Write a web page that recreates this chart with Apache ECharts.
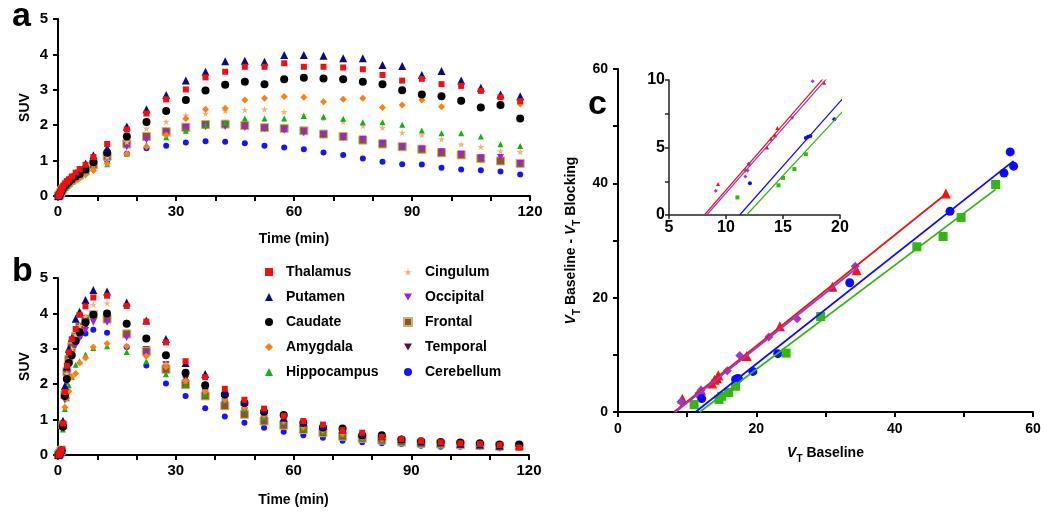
<!DOCTYPE html>
<html lang="en">
<head>
<meta charset="UTF-8">
<title>SUV curves and occupancy plot</title>
<style>
  html, body { margin: 0; padding: 0; background: #fff; }
</style>
</head>
<body>
<div id="fig" style="width:1050px;height:515px;"></div>
<script src="https://cdn.jsdelivr.net/npm/echarts/dist/echarts.min.js"></script>
<script>
// frame mid times (min)
var times = [0.08, 0.25, 0.42, 0.58, 0.75, 0.92, 1.25, 1.75, 2.25, 2.75, 3.5, 4.5, 5.5, 7, 9,
  12.5, 17.5, 22.5, 27.5, 32.5, 37.5, 42.5, 47.5, 52.5, 57.5, 62.5, 67.5, 72.5, 77.5, 82.5,
  87.5, 92.5, 97.5, 102.5, 107.5, 112.5, 117.5];

var regions = ['Thalamus', 'Putamen', 'Caudate', 'Amygdala', 'Hippocampus',
  'Cingulum', 'Occipital', 'Frontal', 'Temporal', 'Cerebellum'];

// panel a
var thalamusA = [0, 0.02, 0.06, 0.1, 0.15, 0.2, 0.27, 0.35, 0.42, 0.47, 0.55, 0.66, 0.76, 0.88, 1.1,
  1.47, 1.88, 2.33, 2.73, 3.01, 3.35, 3.51, 3.65, 3.65, 3.75, 3.65, 3.65, 3.63, 3.58, 3.42, 3.26, 3.31, 3.16, 3.11, 2.97, 2.79, 2.68];
var putamenA = [0, 0.02, 0.05, 0.09, 0.14, 0.19, 0.26, 0.34, 0.41, 0.46, 0.54, 0.65, 0.74, 0.92, 1.15,
  1.35, 1.96, 2.45, 2.85, 3.26, 3.51, 3.81, 3.82, 3.79, 3.98, 3.98, 3.96, 3.89, 3.89, 3.70, 3.67, 3.42, 3.53, 3.26, 3.06, 2.87, 2.82];
var caudateA = [0, 0.02, 0.04, 0.08, 0.12, 0.16, 0.22, 0.29, 0.35, 0.4, 0.47, 0.55, 0.62, 0.75, 0.95,
  1.22, 1.68, 2.09, 2.40, 2.71, 2.98, 3.14, 3.23, 3.16, 3.30, 3.34, 3.32, 3.30, 3.23, 3.16, 2.99, 2.87, 2.82, 2.69, 2.50, 2.57, 2.19];
var amygdalaA = [0, 0.01, 0.03, 0.06, 0.09, 0.12, 0.17, 0.23, 0.28, 0.32, 0.38, 0.43, 0.5, 0.6, 0.72,
  0.92, 1.19, 1.39, 1.72, 2.18, 2.45, 2.48, 2.71, 2.76, 2.81, 2.79, 2.66, 2.73, 2.76, 2.50, 2.57, 2.71, 2.52, 2.66, 2.52, 2.56, 2.6];
var hippocampusA = [0, 0.01, 0.03, 0.06, 0.09, 0.12, 0.17, 0.23, 0.28, 0.33, 0.4, 0.47, 0.55, 0.65, 0.78,
  0.9, 1.2, 1.44, 1.66, 1.84, 2.0, 2.07, 2.19, 2.19, 2.19, 2.26, 2.24, 2.18, 2.08, 2.08, 2.01, 1.85, 1.77, 1.77, 1.68, 1.46, 1.41];
var cingulumA = [0, 0.01, 0.03, 0.07, 0.1, 0.14, 0.19, 0.25, 0.31, 0.36, 0.42, 0.5, 0.57, 0.68, 0.85,
  1.1, 1.53, 1.91, 2.1, 2.29, 2.33, 2.41, 2.43, 2.45, 2.38, 2.29, 2.19, 2.10, 1.98, 1.93, 1.79, 1.72, 1.61, 1.46, 1.39, 1.27, 1.25];
var occipitalA = [0, 0.01, 0.04, 0.07, 0.1, 0.14, 0.19, 0.26, 0.32, 0.37, 0.44, 0.52, 0.6, 0.7, 0.85,
  1.05, 1.39, 1.58, 1.77, 1.94, 1.96, 1.96, 1.94, 1.91, 1.86, 1.79, 1.74, 1.66, 1.60, 1.49, 1.39, 1.33, 1.25, 1.18, 1.08, 1.09, 0.92];
var frontalA = [0, 0.01, 0.04, 0.07, 0.11, 0.15, 0.2, 0.27, 0.33, 0.38, 0.45, 0.53, 0.6, 0.72, 0.88,
  1.12, 1.47, 1.68, 1.82, 1.94, 2.02, 2.03, 1.99, 1.93, 1.91, 1.84, 1.75, 1.68, 1.58, 1.47, 1.39, 1.32, 1.22, 1.16, 1.06, 0.99, 0.92];
var temporalA = [0, 0.01, 0.04, 0.07, 0.1, 0.14, 0.19, 0.26, 0.32, 0.37, 0.44, 0.51, 0.58, 0.7, 0.85,
  1.08, 1.42, 1.63, 1.78, 1.9, 1.97, 1.98, 1.95, 1.9, 1.87, 1.8, 1.72, 1.65, 1.56, 1.45, 1.37, 1.3, 1.2, 1.14, 1.05, 0.98, 0.9];
var cerebellumA = [0, 0.02, 0.04, 0.07, 0.1, 0.14, 0.19, 0.25, 0.3, 0.35, 0.41, 0.48, 0.55, 0.65, 0.8,
  1.0, 1.19, 1.35, 1.42, 1.51, 1.55, 1.53, 1.49, 1.42, 1.37, 1.32, 1.23, 1.16, 1.06, 0.97, 0.90, 0.89, 0.80, 0.75, 0.73, 0.69, 0.61];

// panel b
var thalamusB = [0, 0.02, 0.05, 0.08, 0.1, 0.15, 0.89, 1.78, 2.52, 2.9, 3.27, 3.56, 3.96, 4.2, 4.45,
  4.5, 4.21, 3.77, 3.18, 2.65, 2.2, 1.87, 1.56, 1.31, 1.1, 0.96, 0.86, 0.70, 0.63, 0.51, 0.45, 0.40, 0.36, 0.33, 0.31, 0.28, 0.21];
var putamenB = [0, 0.02, 0.05, 0.08, 0.1, 0.15, 0.97, 1.95, 2.5, 3.0, 3.3, 3.85, 4.05, 4.38, 4.66,
  4.62, 4.31, 3.8, 3.28, 2.6, 2.29, 1.76, 1.5, 1.28, 1.05, 0.92, 0.82, 0.72, 0.6, 0.53, 0.45, 0.38, 0.36, 0.32, 0.3, 0.27, 0.27];
var caudateB = [0, 0.02, 0.04, 0.07, 0.1, 0.13, 0.8, 1.67, 2.15, 2.6, 2.82, 3.22, 3.47, 3.75, 3.96,
  4.0, 3.71, 3.29, 2.82, 2.32, 1.97, 1.71, 1.47, 1.22, 1.13, 0.91, 0.78, 0.75, 0.56, 0.56, 0.44, 0.39, 0.37, 0.35, 0.33, 0.3, 0.3];
var amygdalaB = [0, 0.01, 0.03, 0.06, 0.09, 0.12, 0.8, 1.35, 1.6, 1.8, 2.2, 2.3, 2.6, 2.74, 3.05,
  3.15, 3.07, 2.79, 2.49, 2.09, 1.81, 1.57, 1.34, 1.12, 0.95, 0.8, 0.7, 0.6, 0.5, 0.45, 0.4, 0.35, 0.33, 0.3, 0.28, 0.26, 0.25];
var hippocampusB = [0, 0.01, 0.03, 0.05, 0.08, 0.11, 0.72, 1.3, 1.6, 1.97, 2.2, 2.55, 2.65, 2.84, 3.02,
  3.07, 2.91, 2.65, 2.28, 1.97, 1.71, 1.53, 1.29, 1.06, 0.94, 0.75, 0.66, 0.57, 0.48, 0.43, 0.38, 0.34, 0.31, 0.28, 0.26, 0.24, 0.23];
var cingulumB = [0, 0.02, 0.04, 0.07, 0.1, 0.13, 0.85, 1.7, 2.3, 2.7, 3.0, 3.4, 3.65, 3.9, 4.25,
  4.29, 3.78, 3.3, 2.58, 2.1, 1.78, 1.55, 1.3, 1.1, 0.95, 0.8, 0.7, 0.6, 0.5, 0.45, 0.4, 0.36, 0.33, 0.3, 0.28, 0.26, 0.25];
var occipitalB = [0, 0.02, 0.04, 0.07, 0.1, 0.13, 0.82, 1.55, 2.05, 2.5, 2.75, 3.1, 3.3, 3.52, 3.75,
  3.75, 3.32, 2.88, 2.46, 2.05, 1.75, 1.45, 1.22, 1.0, 0.88, 0.74, 0.64, 0.55, 0.47, 0.42, 0.37, 0.33, 0.3, 0.28, 0.26, 0.24, 0.23];
var frontalB = [0, 0.02, 0.05, 0.08, 0.11, 0.14, 0.85, 1.7, 2.35, 2.7, 3.05, 3.35, 3.62, 3.84, 3.96,
  3.84, 3.42, 2.93, 2.42, 1.99, 1.67, 1.39, 1.15, 0.96, 0.84, 0.72, 0.63, 0.53, 0.47, 0.42, 0.37, 0.33, 0.31, 0.29, 0.27, 0.25, 0.24];
var temporalB = [0, 0.02, 0.04, 0.07, 0.1, 0.13, 0.83, 1.6, 2.1, 2.55, 2.85, 3.2, 3.45, 3.6, 3.8,
  3.8, 3.38, 2.98, 2.55, 2.15, 1.8, 1.5, 1.25, 1.03, 0.9, 0.76, 0.66, 0.56, 0.48, 0.43, 0.38, 0.34, 0.31, 0.29, 0.27, 0.25, 0.24];
var cerebellumB = [0, 0.02, 0.04, 0.07, 0.1, 0.13, 0.85, 1.75, 2.3, 2.65, 2.95, 3.2, 3.35, 3.43, 3.54,
  3.45, 3.05, 2.53, 2.02, 1.67, 1.32, 1.09, 0.91, 0.77, 0.66, 0.56, 0.49, 0.40, 0.36, 0.33, 0.31, 0.26, 0.23, 0.23, 0.22, 0.19, 0.22];

// panel c : [VT baseline, VT baseline - VT blocking]
var redPts = [[9.3, 2.3], [12.0, 3.8], [13.6, 5.0], [13.95, 5.65], [14.3, 5.9], [14.5, 6.45],
  [18.6, 9.8], [23.4, 15.0], [31.0, 21.9], [34.5, 24.8], [47.4, 38.2]];
var purplePts = [[9.1, 1.8], [11.7, 2.85], [11.7, 3.3], [11.9, 3.3], [12.0, 3.8], [15.8, 7.2],
  [17.6, 9.9], [21.8, 13.1], [25.9, 16.3], [34.3, 25.5]];
var bluePts = [[12.1, 2.35], [17.0, 5.7], [17.2, 5.8], [17.4, 5.85], [19.5, 7.1], [23.1, 10.2],
  [33.5, 22.6], [48.0, 35.1], [55.8, 41.8], [57.2, 43.0], [56.7, 45.5]];
var greenPts = [[11.0, 1.3], [14.6, 2.2], [15.0, 2.75], [16.0, 3.4], [17.0, 4.5], [24.3, 10.3],
  [29.3, 16.7], [43.2, 28.9], [47.0, 30.7], [49.6, 34.0], [54.6, 39.8]];

// linear fits: x-intercept, slope, last x
var fitX0 = [8.1, 8.3, 11.2, 11.8];
var fitSlope = [0.97, 0.96, 0.955, 0.91];
var fitXEnd = [47.4, 34.5, 57.2, 54.6];

var FONT = '"Liberation Sans", Arial, Helvetica, sans-serif';

var dataA = [thalamusA, putamenA, caudateA, amygdalaA, hippocampusA, cingulumA, occipitalA, frontalA, temporalA, cerebellumA];
var dataB = [thalamusB, putamenB, caudateB, amygdalaB, hippocampusB, cingulumB, occipitalB, frontalB, temporalB, cerebellumB];

var starPath = 'path://M50,0 L61,35 L98,35 L68,57 L79,91 L50,70 L21,91 L32,57 L2,35 L39,35 Z';
var downTri = 'path://M0,0 L10,0 L5,9 Z';
var looks = [
  {symbol: 'rect', size: 6, color: '#f20f0f'},
  {symbol: 'triangle', size: 8, color: '#0a0a80'},
  {symbol: 'circle', size: 8, color: '#000000'},
  {symbol: 'diamond', size: 7, color: '#ff7f0f'},
  {symbol: 'triangle', size: 6, color: '#11b211'},
  {symbol: starPath, size: 7, color: '#f2b27a'},
  {symbol: downTri, size: 7, color: '#a01ee6'},
  {symbol: 'rect', size: 8, color: '#8a5a1c', border: '#cfae7e'},
  {symbol: downTri, size: 7, color: '#5a0f46'},
  {symbol: 'circle', size: 6, color: '#1414ff'}
];

function axis(o) {
  var base = {
    type: 'value',
    splitLine: {show: false},
    axisLine: {show: true, onZero: false, lineStyle: {color: '#000', width: 2}},
    axisTick: {show: true, length: 5, lineStyle: {color: '#000', width: 2}},
    axisLabel: {color: '#000', fontWeight: 'bold', fontSize: 15, fontFamily: FONT},
    nameTextStyle: {color: '#000', fontWeight: 'bold', fontSize: 14, fontFamily: FONT}
  };
  for (var k in o) {
    if (typeof o[k] === 'object' && base[k] && !Array.isArray(o[k])) {
      for (var j in o[k]) base[k][j] = o[k][j];
    } else {
      base[k] = o[k];
    }
  }
  return base;
}

var vtRich = {
  i: {fontStyle: 'italic', fontWeight: 'bold', fontSize: 14, fontFamily: FONT, color: '#000', lineHeight: 22},
  s: {fontWeight: 'bold', fontSize: 10, fontFamily: FONT, color: '#000', lineHeight: 8, verticalAlign: 'bottom'},
  n: {fontWeight: 'bold', fontSize: 14, fontFamily: FONT, color: '#000', lineHeight: 22}
};

var series = [];
// reverse order so Thalamus ends on top
for (var i = regions.length - 1; i >= 0; i--) {
  var lk = looks[i];
  [dataA, dataB].forEach(function (set, p) {
    series.push({
      name: regions[i],
      type: 'scatter',
      xAxisIndex: p,
      yAxisIndex: p,
      symbol: lk.symbol,
      symbolSize: lk.size,
      itemStyle: {color: lk.color, opacity: 1, borderColor: lk.border || lk.color, borderWidth: lk.border ? 1 : 0},
      data: times.map(function (t, j) { return [t, set[i][j]]; })
    });
  });
}

var cSets = [
  {pts: redPts, color: '#f01414', symbol: 'triangle', size: 10},
  {pts: purplePts, color: '#9a3ad2', symbol: 'diamond', size: 9},
  {pts: bluePts, color: '#0a0aff', symbol: 'circle', size: 9},
  {pts: greenPts, color: '#33b514', symbol: 'rect', size: 9}
];
cSets.forEach(function (s, k) {
  var fit = [[fitX0[k], 0], [fitXEnd[k], fitSlope[k] * (fitXEnd[k] - fitX0[k])]];
  [2, 3].forEach(function (ax) {
    series.push({
      name: 'fit' + k + '_' + ax,
      type: 'line',
      xAxisIndex: ax, yAxisIndex: ax,
      symbol: 'none',
      clip: true,
      lineStyle: {color: s.color, width: ax === 2 ? 1.8 : 1.2},
      data: fit
    });
    series.push({
      name: 'pts' + k + '_' + ax,
      type: 'scatter',
      xAxisIndex: ax, yAxisIndex: ax,
      symbol: s.symbol,
      symbolSize: ax === 2 ? s.size : 4,
      clip: true,
      itemStyle: {color: s.color, opacity: 1},
      data: s.pts
    });
  });
});

var legendText = {fontSize: 14, fontWeight: 'bold', color: '#000', fontFamily: FONT, lineHeight: 16, padding: [0, 0, 0, 8]};

var chart = echarts.init(document.getElementById('fig'));
chart.setOption({
  animation: false,
  backgroundColor: '#fff',
  textStyle: {fontFamily: FONT},
  grid: [
    {left: 58, top: 19, width: 472, height: 177},
    {left: 58, top: 278, width: 471, height: 177},
    {left: 618, top: 69, width: 415, height: 343},
    {left: 669, top: 80, width: 171, height: 135}
  ],
  xAxis: [
    axis({gridIndex: 0, min: 0, max: 120, interval: 10, name: 'Time (min)', nameLocation: 'middle', nameGap: 36,
      axisLabel: {margin: 8, formatter: function (v) { return v % 30 === 0 ? v : ''; }}}),
    axis({gridIndex: 1, min: 0, max: 120, interval: 10, name: 'Time (min)', nameLocation: 'middle', nameGap: 38,
      axisLabel: {margin: 8, formatter: function (v) { return v % 30 === 0 ? v : ''; }}}),
    axis({gridIndex: 2, min: 0, max: 60, interval: 10, name: '{i|V}{s|T}{n| Baseline}', nameLocation: 'middle', nameGap: 30,
      nameTextStyle: {rich: vtRich},
      axisLabel: {fontSize: 14, margin: 10, formatter: function (v) { return v % 20 === 0 ? v : ''; }}}),
    axis({gridIndex: 3, min: 5, max: 20, interval: 5,
      axisLine: {lineStyle: {color: '#222', width: 1.5}},
      axisTick: {length: 4, lineStyle: {color: '#222', width: 1.5}},
      axisLabel: {fontSize: 16, margin: 5}})
  ],
  yAxis: [
    axis({gridIndex: 0, min: 0, max: 5, interval: 1, name: 'SUV', nameLocation: 'middle', nameGap: 26,
      axisLabel: {margin: 10}}),
    axis({gridIndex: 1, min: 0, max: 5, interval: 1, name: 'SUV', nameLocation: 'middle', nameGap: 26,
      axisLabel: {margin: 10}}),
    axis({gridIndex: 2, min: 0, max: 60, interval: 10, name: '{i|V}{s|T}{n| Baseline - }{i|V}{s|T}{n| Blocking}',
      nameLocation: 'middle', nameGap: 36, nameTextStyle: {rich: vtRich},
      axisLabel: {fontSize: 14, margin: 10, formatter: function (v) { return v % 20 === 0 ? v : ''; }}}),
    axis({gridIndex: 3, min: 0, max: 10, interval: 5,
      axisLine: {lineStyle: {color: '#222', width: 1.5}},
      axisTick: {length: 4, lineStyle: {color: '#222', width: 1.5}},
      minorTick: {show: true, splitNumber: 2, length: 4, lineStyle: {color: '#222', width: 1.5}},
      axisLabel: {fontSize: 16, margin: 4}})
  ],
  legend: [
    {data: regions.slice(0, 5), orient: 'vertical', left: 260, top: 259, itemWidth: 8, itemHeight: 8, itemGap: 9,
      selectedMode: false, textStyle: legendText},
    {data: regions.slice(5), orient: 'vertical', left: 398, top: 259, itemWidth: 8, itemHeight: 8, itemGap: 9,
      selectedMode: false, textStyle: legendText}
  ],
  graphic: [
    {type: 'text', left: 12, top: 0, style: {text: 'a', font: 'bold 34px ' + FONT, fill: '#000'}},
    {type: 'text', left: 12, top: 255, style: {text: 'b', font: 'bold 34px ' + FONT, fill: '#000'}},
    {type: 'text', left: 588, top: 88, style: {text: 'c', font: 'bold 34px ' + FONT, fill: '#000'}}
  ],
  series: series
});
</script>
</body>
</html>
